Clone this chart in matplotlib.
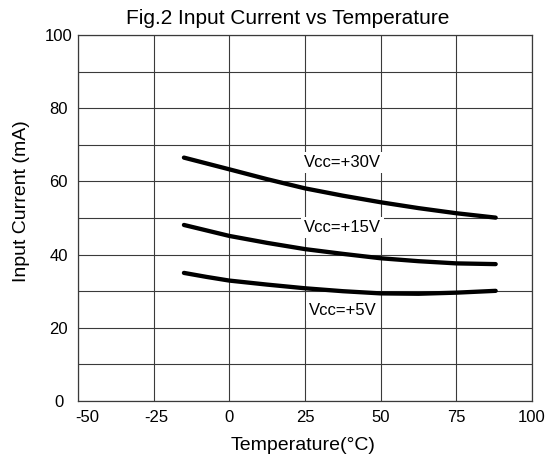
import matplotlib.pyplot as plt
import matplotlib.transforms as mtransforms

# Temperature points (deg C)
temp = [-15, -7.5, 0, 12.5, 25, 37.5, 50, 62.5, 75, 88]

# Input current (mA) for each supply voltage
i_30v = [66.5, 64.9, 63.3, 60.6, 58.1, 56.1, 54.3, 52.7, 51.3, 50.1]
i_15v = [48.1, 46.6, 45.1, 43.2, 41.5, 40.2, 39.0, 38.2, 37.6, 37.4]
i_5v = [35.0, 33.9, 32.9, 31.8, 30.8, 30.0, 29.4, 29.3, 29.6, 30.1]

# Curve labels (baseline position)
labels = ["Vcc=+30V", "Vcc=+15V", "Vcc=+5V"]
label_x = [37.4, 37.4, 37.4]
label_y = [63.9, 46.1, 23.5]

x_ticks = [-50, -25, 0, 25, 50, 75, 100]
y_ticks = [0, 20, 40, 60, 80, 100]
y_minor = [10, 30, 50, 70, 90]

plt.rcParams['font.family'] = ['Liberation Sans', 'DejaVu Sans']
plt.rcParams['axes.unicode_minus'] = False

W, H = 553, 458
fig = plt.figure(figsize=(W / 100, H / 100), dpi=100)
ax = fig.add_axes([78 / W, 1 - 401 / H, 454 / W, 366 / H])

# Draw the three curves
for series in [i_30v, i_15v, i_5v]:
    ax.plot(temp, series, color="black", linewidth=3.1, solid_capstyle="round", zorder=3)

# Labels with white boxes that hide the grid behind them
for text, x, y in zip(labels, label_x, label_y):
    ax.text(x, y, text, ha="center", va="baseline", fontsize=12, zorder=4,
            bbox=dict(facecolor="white", edgecolor="none", pad=2))

ax.set_xlim(-50, 100)
ax.set_ylim(0, 100)
ax.set_xticks(x_ticks)
ax.set_yticks(y_ticks)
ax.set_yticks(y_minor, minor=True)
ax.tick_params(which="both", length=0, labelsize=12)
ax.tick_params(axis="x", pad=6.5)
ax.tick_params(axis="y", pad=14)
for lab in ax.get_yticklabels():
    lab.set_horizontalalignment("center")

# the first two x labels sit a bit to the right in the original
shifts = [9.5, 3]
for lab, dx in zip(ax.get_xticklabels()[:2], shifts):
    off = mtransforms.ScaledTranslation(dx / 100, 0, fig.dpi_scale_trans)
    lab.set_transform(lab.get_transform() + off)

# Grid every 25 deg and every 10 mA
ax.grid(True, which="both", color="#3a3a3a", linewidth=0.8)
ax.set_axisbelow(True)
for spine in ax.spines.values():
    spine.set_color("#3a3a3a")
    spine.set_linewidth(0.9)

fig.text(287.5 / W, 1 - 24.3 / H, "Fig.2 Input Current vs Temperature",
         fontsize=15, ha="center", va="baseline")
fig.text(303.4 / W, 1 - 449.6 / H, "Temperature(°C)",
         fontsize=14, ha="center", va="baseline")
fig.text(22 / W, 1 - 201 / H, "Input Current (mA)",
         fontsize=14, ha="center", va="center", rotation=90)

fig.savefig("out.png", dpi=100)
